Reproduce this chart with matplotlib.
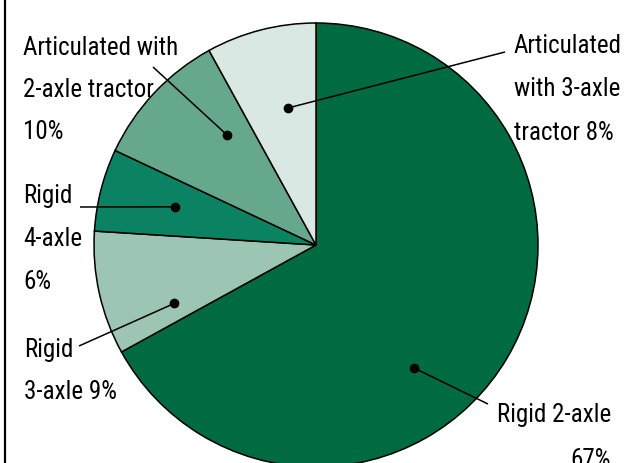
import numpy as np
import matplotlib
matplotlib.use('Agg')
import matplotlib.pyplot as plt
from matplotlib import font_manager

# shares of the truck fleet, clockwise from 12 o'clock
categories = ['Rigid 2-axle', 'Rigid 3-axle', 'Rigid 4-axle',
              'Articulated with 2-axle tractor', 'Articulated with 3-axle tractor']
shares = [67, 9, 6, 10, 8]
label_templates = ['Rigid 2-axle\n{}%', 'Rigid\n3-axle {}%', 'Rigid\n4-axle\n{}%',
                   'Articulated with\n2-axle tractor\n{}%', 'Articulated\nwith 3-axle\ntractor {}%']
colors = ['#006a40', '#9dc5b4', '#0b8262', '#66a88c', '#d9e8e3']

W, H = 636, 464
CX, CY, R = 316, 246, 222

# label layout in pixels: x, first baseline, line step, alignment,
# dot (angle deg, fraction of radius), leader end
layout = [
    dict(x=611, y=422, step=45, ha='right', dot=(-51.4, 0.71), end=(488, 405)),
    dict(x=24, y=357, step=42, ha='left', dot=(202.4, 0.69), end=(79, 347)),
    dict(x=23, y=203, step=43, ha='left', dot=(164.9, 0.66), end=(80, 208)),
    dict(x=23, y=55, step=42, ha='left', dot=(129.0, 0.64), end=(153, 68)),
    dict(x=514, y=53, step=43.5, ha='left', dot=(101.5, 0.63), end=(505, 53)),
]


def pick_font():
    names = {f.name for f in font_manager.fontManager.ttflist}
    for cand in ['Noto Sans ExtraCondensed', 'Noto Sans Condensed', 'Liberation Sans Narrow',
                 'Roboto Condensed', 'Open Sans Condensed', 'DejaVu Sans Condensed']:
        if cand in names:
            return cand, 'normal'
    for f in font_manager.fontManager.ttflist:
        if f.name in ('Noto Sans', 'Open Sans', 'Roboto', 'DejaVu Sans') and \
                str(f.stretch) in ('condensed', 'extra-condensed', 'ultra-condensed'):
            return f.name, f.stretch
    return 'Liberation Sans', 'normal'


font, stretch = pick_font()

fig = plt.figure(figsize=(W / 100, H / 100), dpi=100)
ax = fig.add_axes([0, 0, 1, 1])

ax.pie(shares, colors=colors, startangle=90, counterclock=False,
       center=(CX, H - CY), radius=R,
       wedgeprops=dict(edgecolor='black', linewidth=1.1))
ax.set_xlim(0, W)
ax.set_ylim(0, H)
ax.set_aspect('equal')
ax.axis('off')

# fit the font size to the width of the widest label line in the original
renderer = fig.canvas.get_renderer()
probe = ax.text(0, 0, 'Articulated with', fontsize=20, family=font, fontstretch=stretch)
w = probe.get_window_extent(renderer).width
probe.remove()
fs = min(26, 20 * 155 / w)

for share, tpl, lay in zip(shares, label_templates, layout):
    for i, line in enumerate(tpl.format(share).split('\n')):
        ax.text(lay['x'], H - (lay['y'] + i * lay['step']), line, ha=lay['ha'], va='baseline',
                fontsize=fs, family=font, fontstretch=stretch, color='black')
    ang = np.radians(lay['dot'][0])
    dx = CX + lay['dot'][1] * R * np.cos(ang)
    dy = H - CY + lay['dot'][1] * R * np.sin(ang)
    ex, ey = lay['end']
    ax.plot([dx, ex], [dy, H - ey], color='black', lw=1.1, solid_capstyle='butt')
    ax.plot(dx, dy, 'o', color='black', ms=6)

ax.plot([5, 5], [0, H], color='black', lw=1.6)

fig.savefig('out.png', dpi=100)
